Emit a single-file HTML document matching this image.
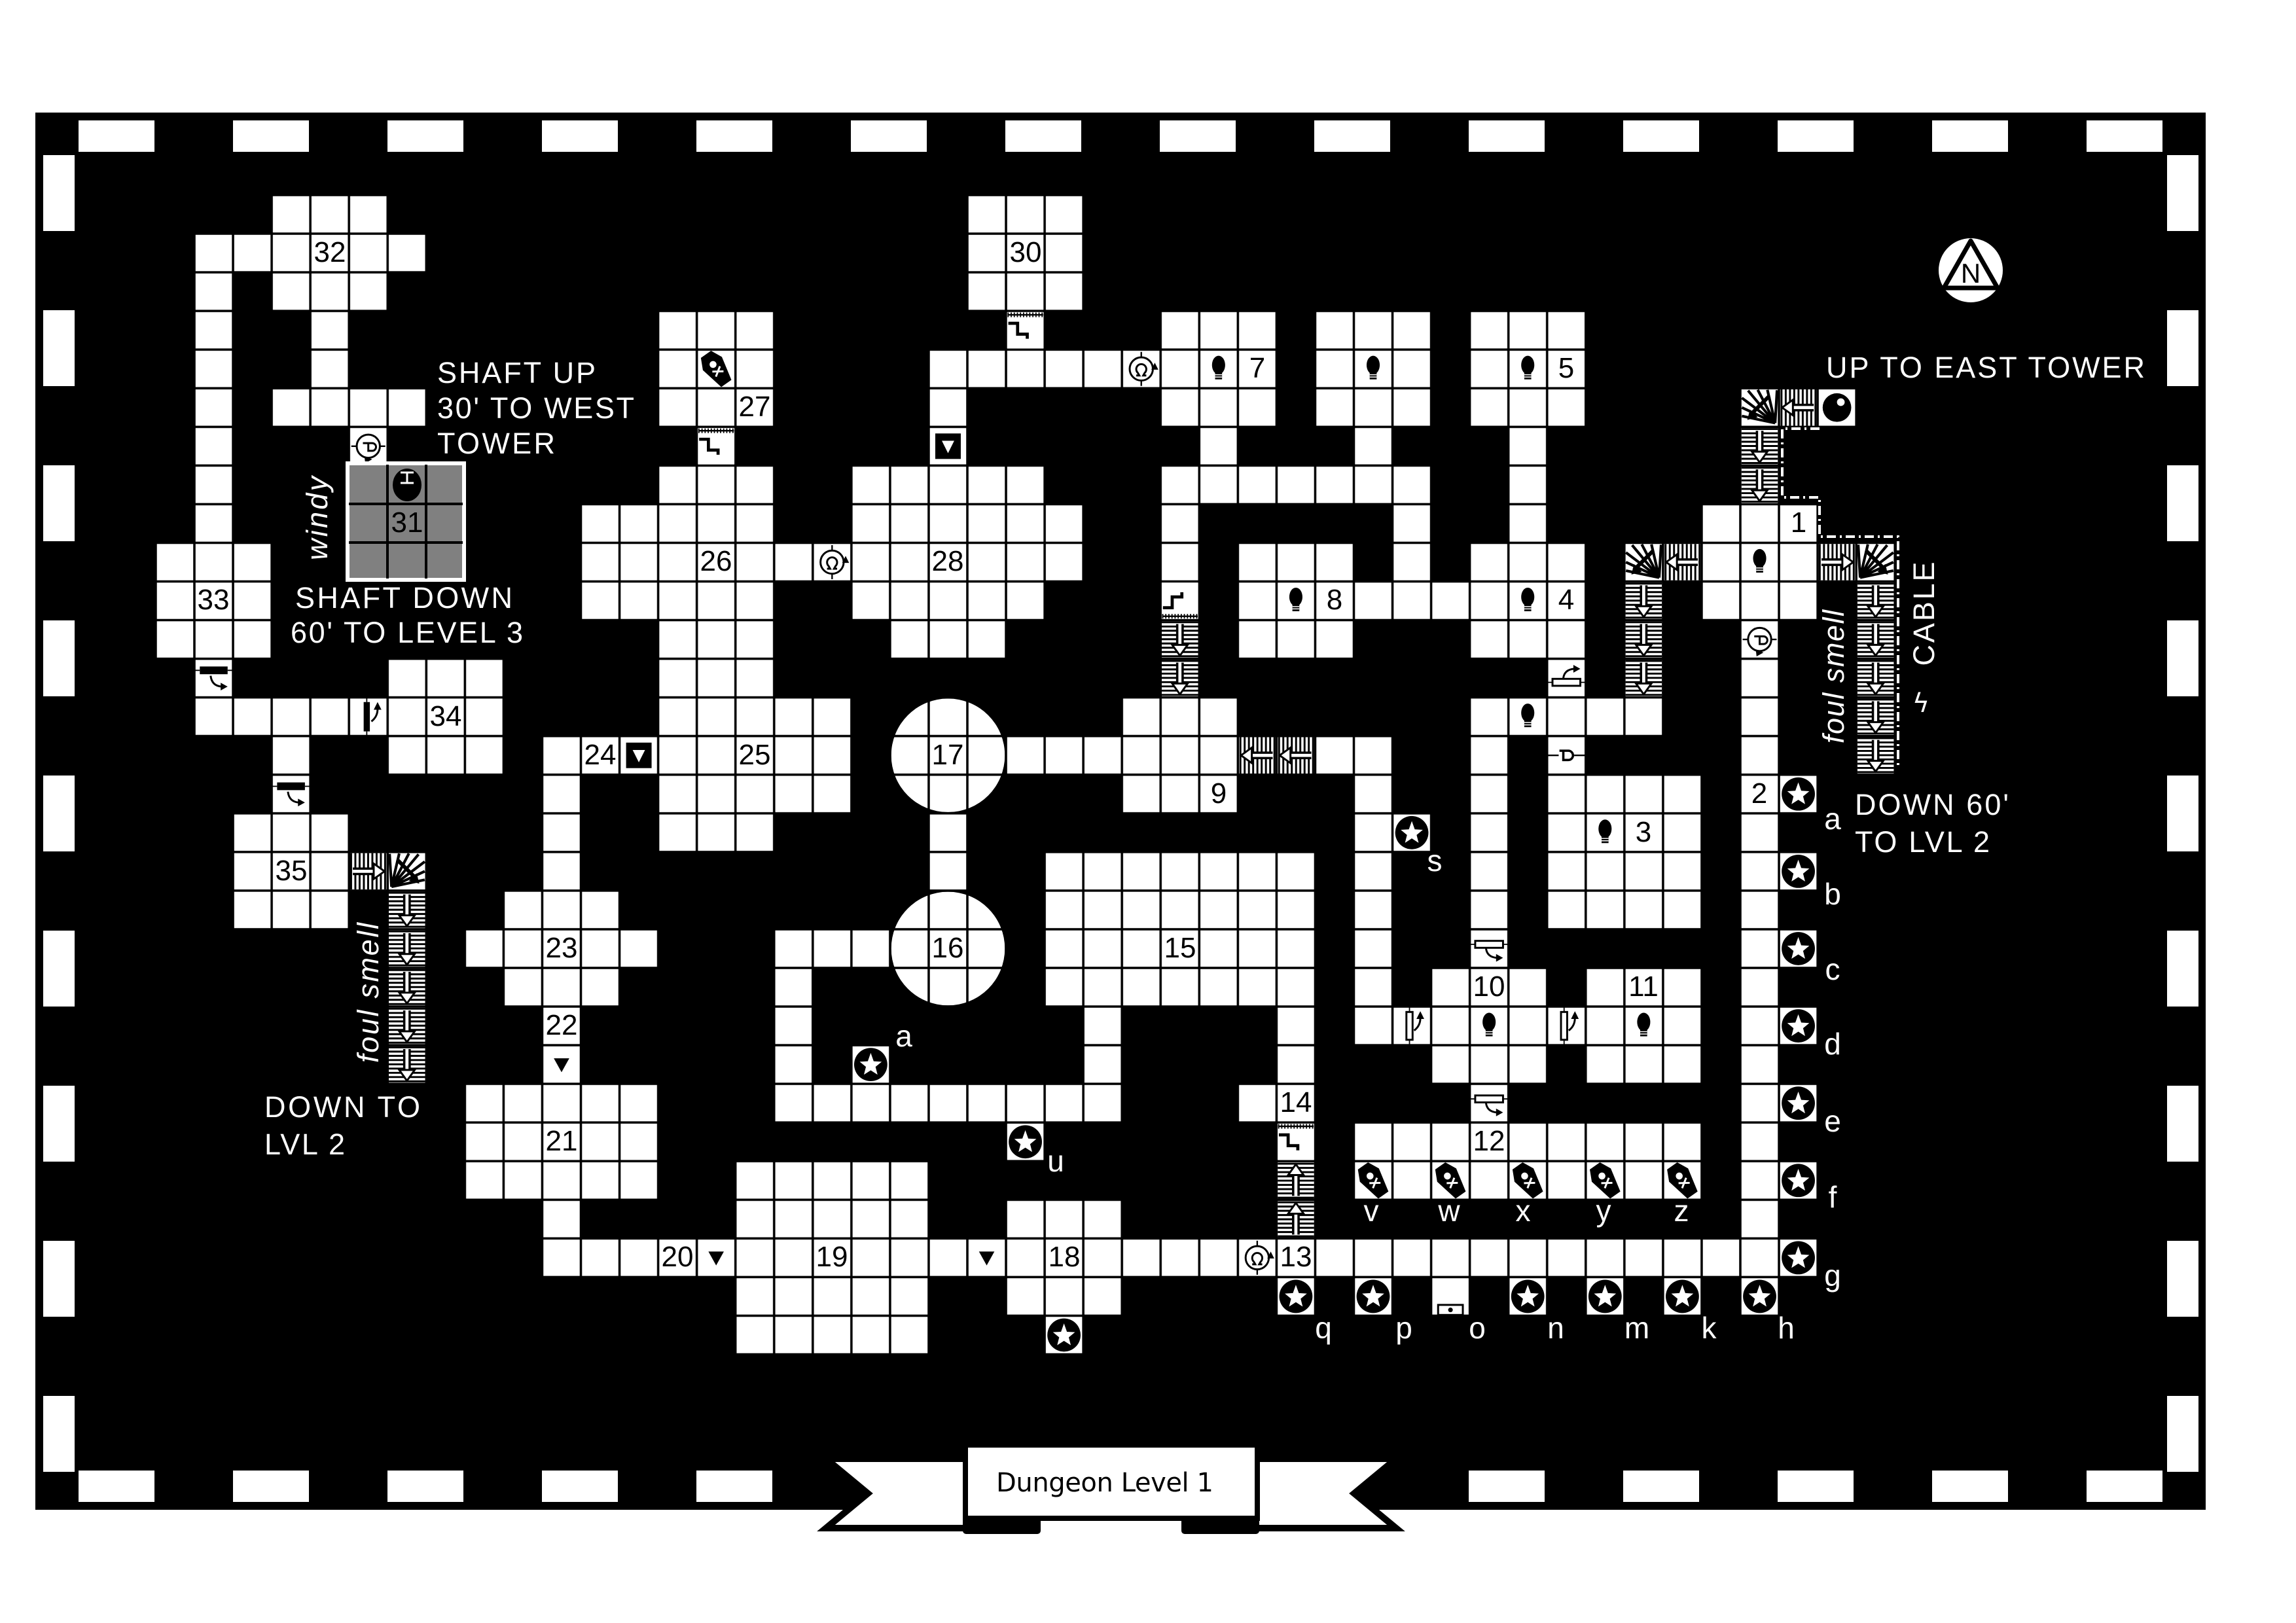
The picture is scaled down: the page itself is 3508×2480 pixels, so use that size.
<!DOCTYPE html>
<html><head><meta charset="utf-8"><style>
html,body{margin:0;padding:0;background:#fff}
svg{display:block}
.n{font-family:"Liberation Sans",sans-serif;font-size:44px;fill:#000;text-anchor:middle}
.w{font-family:"Liberation Sans",sans-serif;font-size:45px;fill:#fff}
.l{font-family:"Liberation Sans",sans-serif;font-size:46px;fill:#fff;text-anchor:middle}
.i{font-style:italic}
</style></head><body>
<svg width="3508" height="2480" viewBox="0 0 3508 2480" xmlns="http://www.w3.org/2000/svg">
<defs>
<pattern id="g" patternUnits="userSpaceOnUse" width="1" height="1"><rect x=".03" y=".03" width=".94" height=".94" fill="#fff"/></pattern>
<clipPath id="c17"><circle cx="19.5" cy="14.5" r="1.47"/></clipPath>
<clipPath id="c16"><circle cx="19.5" cy="19.5" r="1.47"/></clipPath>
<g id="bulb"><ellipse cx=".5" cy=".4" rx=".17" ry=".24"/><rect x=".41" y=".55" width=".18" height=".22"/><path d="M.41 .65H.59M.41 .71H.59" stroke="#fff" stroke-width=".025"/></g>
<g id="star"><circle cx=".5" cy=".5" r=".43"/><polygon fill="#fff" points=".5,.2 .576,.415 .785,.427 .624,.56 .676,.763 .5,.65 .324,.763 .376,.56 .215,.427 .424,.415"/></g>
<g id="cof"><g transform="rotate(-35 .5 .5)"><polygon points=".34,.04 .66,.04 .8,.33 .66,.96 .34,.96 .2,.33"/><circle cx=".5" cy=".36" r=".09" fill="#fff"/><path d="M.38 .5L.62 .66M.62 .5L.38 .66" stroke="#fff" stroke-width=".05"/></g></g>
<g id="tb"><rect x=".17" y=".17" width=".66" height=".66"/><polygon fill="#fff" points=".34,.36 .66,.36 .5,.68"/></g>
<polygon id="tri" points=".3,.34 .7,.34 .5,.7"/>
<g id="om"><circle cx=".5" cy=".5" r=".3" fill="none" stroke="#000" stroke-width=".05"/><path d="M.37 .67H.45L.41 .6A.13 .13 0 1 1 .59 .6L.55 .67H.63" fill="none" stroke="#000" stroke-width=".05"/><polygon points=".76,.52 .94,.52 .85,.34"/><path d="M.5 .06V.2M.5 .8V.94" stroke="#000" stroke-width=".04"/></g>
<g id="rot"><circle cx=".5" cy=".5" r=".3" fill="none" stroke="#000" stroke-width=".05"/><path d="M.36 .42H.6A.1 .1 0 0 1 .6 .62H.5V.42" fill="none" stroke="#000" stroke-width=".05"/><polygon points=".4,.76 .6,.84 .42,.94"/><path d="M.06 .5H.2M.8 .5H.94" stroke="#000" stroke-width=".04"/></g>
<g id="ball"><circle cx=".5" cy=".5" r=".37"/><circle cx=".6" cy=".36" r=".1" fill="#fff"/></g>
<g id="sdh"><rect x=".14" y=".2" width=".72" height=".2"/><path d="M0 .3H.14M.86 .3H1" stroke="#000" stroke-width=".03"/><path d="M.42 .44Q.45 .7 .7 .72" fill="none" stroke="#000" stroke-width=".05"/><polygon points=".68,.62 .86,.72 .68,.82"/></g>
<g id="odh"><rect x=".14" y=".3" width=".72" height=".18" fill="#fff" stroke="#000" stroke-width=".05"/><path d="M0 .39H.14M.86 .39H1" stroke="#000" stroke-width=".03"/><path d="M.42 .5Q.45 .72 .7 .74" fill="none" stroke="#000" stroke-width=".05"/><polygon points=".68,.64 .86,.74 .68,.84"/></g>
<g id="sdv"><rect x=".38" y=".12" width=".16" height=".76"/><path d="M.46 0V.12M.46 .88V1" stroke="#000" stroke-width=".03"/><path d="M.58 .62Q.74 .5 .74 .3" fill="none" stroke="#000" stroke-width=".05"/><polygon points=".64,.32 .74,.12 .84,.32"/></g>
<g id="odv"><rect x=".36" y=".14" width=".16" height=".72" fill="#fff" stroke="#000" stroke-width=".05"/><path d="M.44 0V.14M.44 .86V1" stroke="#000" stroke-width=".03"/><path d="M.56 .62Q.72 .5 .72 .3" fill="none" stroke="#000" stroke-width=".05"/><polygon points=".62,.32 .72,.12 .82,.32"/></g>
<g id="sdt"><rect x=".03" y=".03" width=".94" height=".94" fill="#fff"/><path d="M.04 .1H.96" stroke="#000" stroke-width=".04"/><path d="M.04 .1H.96" stroke="#000" stroke-width=".12" stroke-dasharray=".03 .05"/><path d="M.06 .32H.3V.6H.55V.72" fill="none" stroke="#000" stroke-width=".08"/></g>
<g id="stH"><rect x=".03" y=".03" width=".94" height=".94" fill="#fff"/><path d="M.03 .5H.97" stroke="#000" stroke-width=".94" stroke-dasharray=".05 .06"/><path d="M.1 .5H.7" stroke="#000" stroke-width=".2"/><path d="M.1 .5H.7" stroke="#fff" stroke-width=".08"/><polygon points=".64,.3 .92,.5 .64,.7" fill="#fff" stroke="#000" stroke-width=".05"/></g>
<g id="stV"><rect x=".03" y=".03" width=".94" height=".94" fill="#fff"/><path d="M.5 .03V.97" stroke="#000" stroke-width=".94" stroke-dasharray=".05 .06"/><path d="M.5 .1V.7" stroke="#000" stroke-width=".2"/><path d="M.5 .1V.7" stroke="#fff" stroke-width=".08"/><polygon points=".3,.64 .5,.92 .7,.64" fill="#fff" stroke="#000" stroke-width=".05"/></g>
<g id="fan"><rect x=".03" y=".03" width=".94" height=".94" fill="#fff"/><path d="M.1 .9L.05 .05M.1 .9L.3 .04M.1 .9L.55 .04M.1 .9L.8 .06M.1 .9L.96 .25M.1 .9L.96 .5M.1 .9L.96 .72" stroke="#000" stroke-width=".07"/><path d="M.25 .2L.75 .7" stroke="#000" stroke-width=".1"/><polygon points=".82,.82 .55,.75 .75,.55"/></g>
<g id="obox"><rect x=".18" y=".72" width=".64" height=".26" fill="#fff" stroke="#000" stroke-width=".05"/><circle cx=".5" cy=".85" r=".06"/></g>
</defs>

<rect x="0" y="0" width="3508" height="2480" fill="#fff"/>
<rect x="54" y="172" width="3316" height="2135" fill="#000"/>
<g fill="#fff">
<rect x="120" y="184" width="116" height="48"/><rect x="356" y="184" width="116" height="48"/><rect x="592" y="184" width="116" height="48"/><rect x="828" y="184" width="116" height="48"/><rect x="1064" y="184" width="116" height="48"/><rect x="1300" y="184" width="116" height="48"/><rect x="1536" y="184" width="116" height="48"/><rect x="1772" y="184" width="116" height="48"/><rect x="2008" y="184" width="116" height="48"/><rect x="2244" y="184" width="116" height="48"/><rect x="2480" y="184" width="116" height="48"/><rect x="2716" y="184" width="116" height="48"/><rect x="2952" y="184" width="116" height="48"/><rect x="3188" y="184" width="116" height="48"/>
<rect x="120" y="2247" width="116" height="48"/><rect x="356" y="2247" width="116" height="48"/><rect x="592" y="2247" width="116" height="48"/><rect x="828" y="2247" width="116" height="48"/><rect x="1064" y="2247" width="116" height="48"/><rect x="2244" y="2247" width="116" height="48"/><rect x="2480" y="2247" width="116" height="48"/><rect x="2716" y="2247" width="116" height="48"/><rect x="2952" y="2247" width="116" height="48"/><rect x="3188" y="2247" width="116" height="48"/>
<rect x="66" y="237" width="48" height="116"/><rect x="66" y="474" width="48" height="116"/><rect x="66" y="711" width="48" height="116"/><rect x="66" y="948" width="48" height="116"/><rect x="66" y="1185" width="48" height="116"/><rect x="66" y="1422" width="48" height="116"/><rect x="66" y="1659" width="48" height="116"/><rect x="66" y="1896" width="48" height="116"/><rect x="66" y="2133" width="48" height="116"/>
<rect x="3311" y="237" width="48" height="116"/><rect x="3311" y="474" width="48" height="116"/><rect x="3311" y="711" width="48" height="116"/><rect x="3311" y="948" width="48" height="116"/><rect x="3311" y="1185" width="48" height="116"/><rect x="3311" y="1422" width="48" height="116"/><rect x="3311" y="1659" width="48" height="116"/><rect x="3311" y="1896" width="48" height="116"/><rect x="3311" y="2133" width="48" height="116"/>
</g>

<g transform="translate(297,298) scale(59.05)">
<g fill="url(#g)">
<rect x="2" y="0" width="3" height="1"/><rect x="20" y="0" width="3" height="1"/>
<rect x="0" y="1" width="6" height="1"/><rect x="20" y="1" width="3" height="1"/>
<rect x="0" y="2" width="1" height="1"/><rect x="2" y="2" width="3" height="1"/><rect x="20" y="2" width="3" height="1"/>
<rect x="0" y="3" width="1" height="1"/><rect x="3" y="3" width="1" height="1"/><rect x="12" y="3" width="3" height="1"/><rect x="21" y="3" width="1" height="1"/><rect x="25" y="3" width="3" height="1"/><rect x="29" y="3" width="3" height="1"/><rect x="33" y="3" width="3" height="1"/>
<rect x="0" y="4" width="1" height="1"/><rect x="3" y="4" width="1" height="1"/><rect x="12" y="4" width="3" height="1"/><rect x="19" y="4" width="9" height="1"/><rect x="29" y="4" width="3" height="1"/><rect x="33" y="4" width="3" height="1"/>
<rect x="0" y="5" width="1" height="1"/><rect x="2" y="5" width="4" height="1"/><rect x="12" y="5" width="3" height="1"/><rect x="19" y="5" width="1" height="1"/><rect x="25" y="5" width="3" height="1"/><rect x="29" y="5" width="3" height="1"/><rect x="33" y="5" width="3" height="1"/><rect x="42" y="5" width="1" height="1"/>
<rect x="0" y="6" width="1" height="1"/><rect x="4" y="6" width="1" height="1"/><rect x="13" y="6" width="1" height="1"/><rect x="19" y="6" width="1" height="1"/><rect x="26" y="6" width="1" height="1"/><rect x="30" y="6" width="1" height="1"/><rect x="34" y="6" width="1" height="1"/>
<rect x="0" y="7" width="1" height="1"/><rect x="12" y="7" width="3" height="1"/><rect x="17" y="7" width="5" height="1"/><rect x="25" y="7" width="7" height="1"/><rect x="34" y="7" width="1" height="1"/>
<rect x="0" y="8" width="1" height="1"/><rect x="10" y="8" width="5" height="1"/><rect x="17" y="8" width="6" height="1"/><rect x="25" y="8" width="1" height="1"/><rect x="31" y="8" width="1" height="1"/><rect x="34" y="8" width="1" height="1"/><rect x="39" y="8" width="3" height="1"/>
<rect x="-1" y="9" width="3" height="1"/><rect x="10" y="9" width="13" height="1"/><rect x="25" y="9" width="1" height="1"/><rect x="27" y="9" width="3" height="1"/><rect x="31" y="9" width="1" height="1"/><rect x="33" y="9" width="3" height="1"/><rect x="39" y="9" width="3" height="1"/>
<rect x="-1" y="10" width="3" height="1"/><rect x="10" y="10" width="5" height="1"/><rect x="17" y="10" width="5" height="1"/><rect x="25" y="10" width="1" height="1"/><rect x="27" y="10" width="9" height="1"/><rect x="39" y="10" width="3" height="1"/>
<rect x="-1" y="11" width="3" height="1"/><rect x="12" y="11" width="3" height="1"/><rect x="18" y="11" width="3" height="1"/><rect x="27" y="11" width="3" height="1"/><rect x="33" y="11" width="3" height="1"/><rect x="40" y="11" width="1" height="1"/>
<rect x="0" y="12" width="1" height="1"/><rect x="5" y="12" width="3" height="1"/><rect x="12" y="12" width="3" height="1"/><rect x="35" y="12" width="1" height="1"/><rect x="40" y="12" width="1" height="1"/>
<rect x="0" y="13" width="8" height="1"/><rect x="12" y="13" width="5" height="1"/><rect x="24" y="13" width="3" height="1"/><rect x="33" y="13" width="5" height="1"/><rect x="40" y="13" width="1" height="1"/>
<rect x="2" y="14" width="1" height="1"/><rect x="5" y="14" width="3" height="1"/><rect x="9" y="14" width="8" height="1"/><rect x="21" y="14" width="6" height="1"/><rect x="29" y="14" width="2" height="1"/><rect x="33" y="14" width="1" height="1"/><rect x="35" y="14" width="1" height="1"/><rect x="40" y="14" width="1" height="1"/>
<rect x="2" y="15" width="1" height="1"/><rect x="9" y="15" width="1" height="1"/><rect x="12" y="15" width="5" height="1"/><rect x="24" y="15" width="3" height="1"/><rect x="30" y="15" width="1" height="1"/><rect x="33" y="15" width="1" height="1"/><rect x="35" y="15" width="4" height="1"/><rect x="40" y="15" width="2" height="1"/>
<rect x="1" y="16" width="3" height="1"/><rect x="9" y="16" width="1" height="1"/><rect x="12" y="16" width="3" height="1"/><rect x="19" y="16" width="1" height="1"/><rect x="30" y="16" width="2" height="1"/><rect x="33" y="16" width="1" height="1"/><rect x="35" y="16" width="4" height="1"/><rect x="40" y="16" width="1" height="1"/>
<rect x="1" y="17" width="3" height="1"/><rect x="9" y="17" width="1" height="1"/><rect x="19" y="17" width="1" height="1"/><rect x="22" y="17" width="7" height="1"/><rect x="30" y="17" width="1" height="1"/><rect x="33" y="17" width="1" height="1"/><rect x="35" y="17" width="4" height="1"/><rect x="40" y="17" width="2" height="1"/>
<rect x="1" y="18" width="3" height="1"/><rect x="8" y="18" width="3" height="1"/><rect x="22" y="18" width="7" height="1"/><rect x="30" y="18" width="1" height="1"/><rect x="33" y="18" width="1" height="1"/><rect x="35" y="18" width="4" height="1"/><rect x="40" y="18" width="1" height="1"/>
<rect x="7" y="19" width="5" height="1"/><rect x="15" y="19" width="3" height="1"/><rect x="22" y="19" width="7" height="1"/><rect x="30" y="19" width="1" height="1"/><rect x="33" y="19" width="1" height="1"/><rect x="40" y="19" width="2" height="1"/>
<rect x="8" y="20" width="3" height="1"/><rect x="15" y="20" width="1" height="1"/><rect x="22" y="20" width="7" height="1"/><rect x="30" y="20" width="1" height="1"/><rect x="32" y="20" width="3" height="1"/><rect x="36" y="20" width="3" height="1"/><rect x="40" y="20" width="1" height="1"/>
<rect x="9" y="21" width="1" height="1"/><rect x="15" y="21" width="1" height="1"/><rect x="23" y="21" width="1" height="1"/><rect x="28" y="21" width="1" height="1"/><rect x="30" y="21" width="9" height="1"/><rect x="40" y="21" width="2" height="1"/>
<rect x="9" y="22" width="1" height="1"/><rect x="15" y="22" width="1" height="1"/><rect x="17" y="22" width="1" height="1"/><rect x="23" y="22" width="1" height="1"/><rect x="28" y="22" width="1" height="1"/><rect x="32" y="22" width="3" height="1"/><rect x="36" y="22" width="3" height="1"/><rect x="40" y="22" width="1" height="1"/>
<rect x="7" y="23" width="5" height="1"/><rect x="15" y="23" width="9" height="1"/><rect x="27" y="23" width="2" height="1"/><rect x="33" y="23" width="1" height="1"/><rect x="40" y="23" width="2" height="1"/>
<rect x="7" y="24" width="5" height="1"/><rect x="21" y="24" width="1" height="1"/><rect x="28" y="24" width="1" height="1"/><rect x="30" y="24" width="9" height="1"/><rect x="40" y="24" width="1" height="1"/>
<rect x="7" y="25" width="5" height="1"/><rect x="14" y="25" width="5" height="1"/><rect x="30" y="25" width="9" height="1"/><rect x="40" y="25" width="2" height="1"/>
<rect x="9" y="26" width="1" height="1"/><rect x="14" y="26" width="5" height="1"/><rect x="21" y="26" width="3" height="1"/><rect x="40" y="26" width="1" height="1"/>
<rect x="9" y="27" width="33" height="1"/>
<rect x="14" y="28" width="5" height="1"/><rect x="21" y="28" width="3" height="1"/><rect x="28" y="28" width="1" height="1"/><rect x="30" y="28" width="1" height="1"/><rect x="32" y="28" width="1" height="1"/><rect x="34" y="28" width="1" height="1"/><rect x="36" y="28" width="1" height="1"/><rect x="38" y="28" width="1" height="1"/><rect x="40" y="28" width="1" height="1"/>
<rect x="14" y="29" width="5" height="1"/><rect x="22" y="29" width="1" height="1"/>
<rect x="18" y="13" width="3" height="3" clip-path="url(#c17)"/>
<rect x="18" y="18" width="3" height="3" clip-path="url(#c16)"/>
</g>
<use href="#stH" x="4" y="17"/><use href="#fan" x="5" y="17"/>
<use href="#stV" x="5" y="18"/><use href="#stV" x="5" y="19"/><use href="#stV" x="5" y="20"/><use href="#stV" x="5" y="21"/><use href="#stV" x="5" y="22"/>
<g transform="translate(41,5) scale(-1,1)"><use href="#fan"/></g>
<g transform="translate(42,5) scale(-1,1)"><use href="#stH"/></g>
<use href="#stV" x="40" y="6"/><use href="#stV" x="40" y="7"/>
<g transform="translate(38,9) scale(-1,1)"><use href="#fan"/></g>
<g transform="translate(39,9) scale(-1,1)"><use href="#stH"/></g>
<use href="#stV" x="37" y="10"/><use href="#stV" x="37" y="11"/><use href="#stV" x="37" y="12"/>
<use href="#stH" x="42" y="9"/><use href="#fan" x="43" y="9"/>
<use href="#stV" x="43" y="10"/><use href="#stV" x="43" y="11"/><use href="#stV" x="43" y="12"/><use href="#stV" x="43" y="13"/><use href="#stV" x="43" y="14"/>
<g transform="translate(28,14) scale(-1,1)"><use href="#stH"/></g>
<g transform="translate(29,14) scale(-1,1)"><use href="#stH"/></g>
<use href="#stV" x="25" y="11"/><use href="#stV" x="25" y="12"/>
<g transform="translate(28,26) scale(1,-1)"><use href="#stV"/></g>
<g transform="translate(28,27) scale(1,-1)"><use href="#stV"/></g>
<use href="#sdt" x="21" y="3"/><use href="#sdt" x="13" y="6"/><use href="#sdt" x="28" y="24"/>
<g transform="translate(25,11) scale(1,-1)"><use href="#sdt"/></g>
<use href="#bulb" x="26" y="4"/><use href="#bulb" x="30" y="4"/><use href="#bulb" x="34" y="4"/><use href="#bulb" x="28" y="10"/><use href="#bulb" x="34" y="10"/><use href="#bulb" x="40" y="9"/><use href="#bulb" x="34" y="13"/><use href="#bulb" x="36" y="16"/><use href="#bulb" x="33" y="21"/><use href="#bulb" x="37" y="21"/>
<use href="#star" x="41" y="15"/><use href="#star" x="41" y="17"/><use href="#star" x="41" y="19"/><use href="#star" x="41" y="21"/><use href="#star" x="41" y="23"/><use href="#star" x="41" y="25"/><use href="#star" x="41" y="27"/><use href="#star" x="31" y="16"/><use href="#star" x="17" y="22"/><use href="#star" x="21" y="24"/><use href="#star" x="22" y="29"/><use href="#star" x="28" y="28"/><use href="#star" x="30" y="28"/><use href="#star" x="34" y="28"/><use href="#star" x="36" y="28"/><use href="#star" x="38" y="28"/><use href="#star" x="40" y="28"/>
<use href="#cof" x="13" y="4"/><use href="#cof" x="30" y="25"/><use href="#cof" x="32" y="25"/><use href="#cof" x="34" y="25"/><use href="#cof" x="36" y="25"/><use href="#cof" x="38" y="25"/>
<use href="#tb" x="11" y="14"/><use href="#tb" x="19" y="6"/>
<use href="#tri" x="9" y="22"/><use href="#tri" x="13" y="27"/><use href="#tri" x="20" y="27"/>
<use href="#om" x="24" y="4"/><use href="#om" x="16" y="9"/><use href="#om" x="27" y="27"/>
<use href="#rot" x="4" y="6"/><use href="#rot" x="40" y="11"/>
<use href="#ball" x="42" y="5"/>
<use href="#sdh" x="0" y="12"/><use href="#sdh" x="2" y="15"/><use href="#sdv" x="4" y="13"/>
<g transform="translate(35,13) scale(1,-1)"><use href="#odh"/></g>
<use href="#odh" x="33" y="19"/><use href="#odh" x="33" y="23"/>
<use href="#odv" x="31" y="21"/><use href="#odv" x="35" y="21"/>
<g transform="translate(35,14)"><path d="M0 .5H.3M.7 .5H1" stroke="#000" stroke-width=".04"/><path d="M.32 .38H.55A.12 .12 0 0 1 .55 .62H.42V.38" fill="none" stroke="#000" stroke-width=".06"/></g>
<use href="#obox" x="32" y="28"/>
</g>

<rect x="531" y="708" width="178" height="178" fill="#808080" stroke="#fff" stroke-width="6"/>
<path d="M592 710V884M651 710V884M533 770H707M533 829H707" stroke="#000" stroke-width="4"/>
<ellipse cx="622" cy="741" rx="22" ry="25" fill="#000"/>
<path d="M612 722H632M622 722V738M612 738H632" stroke="#fff" stroke-width="3"/>

<path d="M2780 655H2723V760H2780V820H2900V1175" fill="none" stroke="#fff" stroke-width="4" stroke-dasharray="14 6 3 6"/>
<text x="2935" y="1088" font-family="DejaVu Sans,sans-serif" font-size="40" fill="#fff" text-anchor="middle">ϟ</text>

<circle cx="3011" cy="413" r="49" fill="#fff"/>
<polygon points="3011,368 3052,440 2970,440" fill="#fff" stroke="#000" stroke-width="7" stroke-linejoin="round"/>
<text x="3011" y="432" font-family="Liberation Sans,sans-serif" font-size="42" text-anchor="middle" fill="#000">N</text>

<g class="n">
<text x="504" y="400">32</text><text x="326" y="931">33</text><text x="681" y="1109">34</text><text x="445" y="1345">35</text><text x="622" y="813">31</text>
<text x="1153" y="636">27</text><text x="1094" y="872">26</text><text x="1153" y="1168">25</text><text x="917" y="1168">24</text>
<text x="858" y="1463">23</text><text x="858" y="1581">22</text><text x="858" y="1758">21</text><text x="1035" y="1935">20</text>
<text x="1271" y="1935">19</text><text x="1626" y="1935">18</text><text x="1980" y="1935">13</text><text x="1980" y="1699">14</text>
<text x="1803" y="1463">15</text><text x="1448" y="1463">16</text><text x="1448" y="1168">17</text><text x="1567" y="400">30</text>
<text x="1448" y="872">28</text><text x="1921" y="577">7</text><text x="2039" y="931">8</text><text x="1862" y="1227">9</text>
<text x="2393" y="577">5</text><text x="2393" y="931">4</text><text x="2748" y="813">1</text><text x="2688" y="1227">2</text>
<text x="2511" y="1286">3</text><text x="2275" y="1522">10</text><text x="2511" y="1522">11</text><text x="2275" y="1758">12</text>
</g>

<g class="w">
<text x="668" y="585" textLength="242">SHAFT UP</text>
<text x="668" y="639" textLength="301">30' TO WEST</text>
<text x="668" y="693" textLength="180">TOWER</text>
<text x="451" y="929" textLength="332">SHAFT DOWN</text>
<text x="444" y="982" textLength="355">60' TO LEVEL 3</text>
<text x="404" y="1707" textLength="238">DOWN TO</text>
<text x="404" y="1764" textLength="123">LVL 2</text>
<text x="2790" y="577" textLength="487">UP TO EAST TOWER</text>
<text x="2834" y="1245" textLength="235">DOWN 60'</text>
<text x="2834" y="1302" textLength="206">TO LVL 2</text>
<text class="i" transform="translate(578,1517) rotate(-90)" text-anchor="middle" textLength="214">foul smell</text>
<text class="i" transform="translate(2817,1034) rotate(-90)" text-anchor="middle" textLength="204">foul smell</text>
<text class="i" transform="translate(500,792) rotate(-90)" text-anchor="middle" textLength="128">windy</text>
<text transform="translate(2955,938) rotate(-90)" text-anchor="middle" textLength="159">CABLE</text>
</g>
<g class="l">
<text x="2800" y="1267">a</text><text x="2800" y="1382">b</text><text x="2800" y="1497">c</text><text x="2800" y="1611">d</text><text x="2800" y="1729">e</text><text x="2800" y="1845">f</text><text x="2800" y="1965">g</text>
<text x="2022" y="2045">q</text><text x="2145" y="2045">p</text><text x="2257" y="2045">o</text><text x="2377" y="2045">n</text><text x="2501" y="2045">m</text><text x="2611" y="2045">k</text><text x="2729" y="2045">h</text>
<text x="2095" y="1866">v</text><text x="2214" y="1866">w</text><text x="2327" y="1866">x</text><text x="2450" y="1866">y</text><text x="2569" y="1866">z</text>
<text x="2192" y="1331">s</text><text x="1381" y="1599">a</text><text x="1613" y="1790">u</text>
</g>

<polygon points="1262,2229 1480,2229 1480,2335 1262,2335 1326,2282" fill="#fff" stroke="#000" stroke-width="10" stroke-linejoin="miter"/>
<polygon points="2133,2229 1915,2229 1915,2335 2133,2335 2069,2282" fill="#fff" stroke="#000" stroke-width="10" stroke-linejoin="miter"/>
<rect x="1471" y="2312" width="119" height="32" rx="5" fill="#000"/>
<rect x="1805" y="2312" width="119" height="32" rx="5" fill="#000"/>
<rect x="1475" y="2208" width="446" height="112" fill="#fff" stroke="#000" stroke-width="8"/>
<text x="1688" y="2279" font-family="DejaVu Sans,sans-serif" font-size="40" text-anchor="middle" fill="#000" textLength="332">Dungeon Level 1</text>
</svg>
</body></html>
